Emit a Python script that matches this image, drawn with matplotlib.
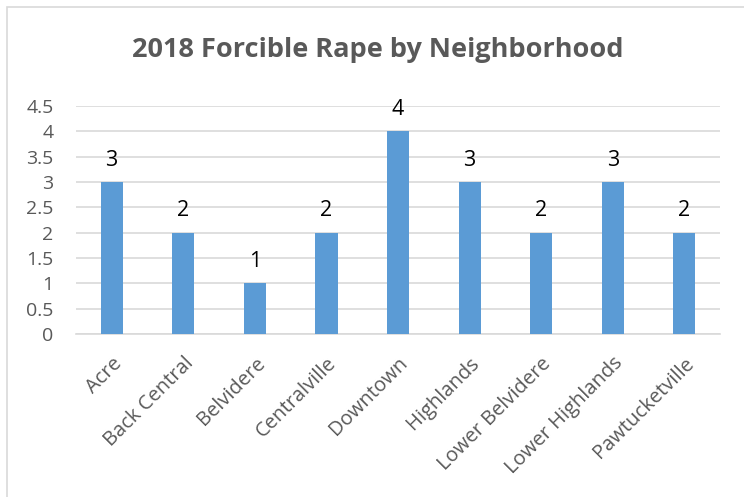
import matplotlib.pyplot as plt
from matplotlib.patches import Rectangle

neighborhoods = ["Acre", "Back Central", "Belvidere", "Centralville", "Downtown",
                 "Highlands", "Lower Belvidere", "Lower Highlands", "Pawtucketville"]
counts = [3, 2, 1, 2, 4, 3, 2, 3, 2]
yticks = [0, 0.5, 1, 1.5, 2, 2.5, 3, 3.5, 4, 4.5]

BAR = "#5B9BD5"
GREY = "#595959"
GRID = "#D9D9D9"

plt.rcParams['font.family'] = ['Open Sans', 'DejaVu Sans']


def main():
    fig = plt.figure(figsize=(7.44, 4.97), dpi=100)
    ax = fig.add_axes([0.102, 0.328, 0.866, 0.459])

    # chart border like an Excel chart area
    fig.patches.append(Rectangle((7 / 744, -0.1), 2, 1.1 - 7 / 497, transform=fig.transFigure,
                                 fill=False, edgecolor=GRID, lw=1.2))

    x = range(len(neighborhoods))
    bars = ax.bar(x, counts, width=0.31, color=BAR, zorder=3)
    ax.bar_label(bars, labels=[str(c) for c in counts], padding=8, fontsize=15.5, color="black")

    ax.set_xlim(-0.5, len(neighborhoods) - 0.5)
    ax.set_ylim(0, 4.5)
    ax.set_yticks(yticks)
    ax.set_yticklabels([f"{t:g}" for t in yticks], fontsize=14, color=GREY)
    ax.set_xticks(list(x))
    ax.set_xticklabels(neighborhoods, rotation=45, ha="right", rotation_mode="anchor",
                       fontsize=14.5, color=GREY)
    ax.tick_params(length=0)
    ax.tick_params(axis='x', pad=14)
    ax.tick_params(axis='y', pad=16)
    ax.grid(axis='y', color=GRID, lw=1.2, zorder=0)

    for s in ['left', 'right', 'top']:
        ax.spines[s].set_visible(False)
    ax.spines['bottom'].set_color(GRID)
    ax.spines['bottom'].set_linewidth(1.2)

    fig.text(0.508, 0.90, "2018 Forcible Rape by Neighborhood", ha="center", va="center",
             fontsize=19.5, fontweight="bold", color=GREY)

    plt.savefig("out.png", dpi=100)


if __name__ == "__main__":
    main()
